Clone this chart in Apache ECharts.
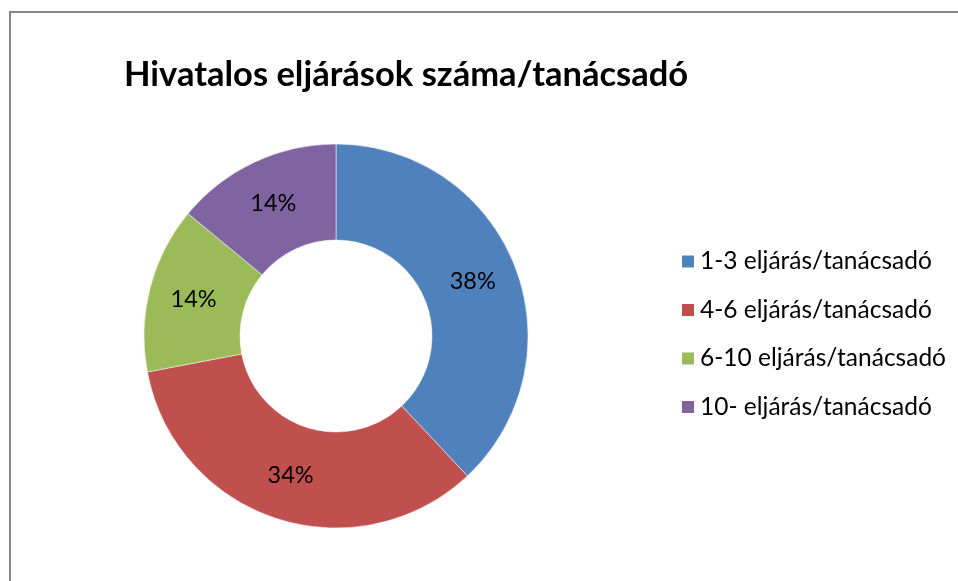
<!DOCTYPE html>
<html>
<head>
<meta charset="utf-8">
<script src="https://cdn.jsdelivr.net/npm/echarts@6/dist/echarts.min.js"></script>
<style>
  html, body { margin: 0; padding: 0; background: #fff; }
  #chart { width: 958px; height: 581px; }
</style>
</head>
<body>
<div id="chart"></div>
<script>
var categories = ['1-3 eljárás/tanácsadó', '4-6 eljárás/tanácsadó', '6-10 eljárás/tanácsadó', '10- eljárás/tanácsadó'];
var values = [38, 34, 14, 14];
var colors = ['#4F81BD', '#C0504D', '#9BBB59', '#8064A2'];

var myChart = echarts.init(document.getElementById('chart'));

var pieData = [];
for (var i = 0; i < categories.length; i++) {
    pieData.push({ name: categories[i], value: values[i] });
}

var option = {
    backgroundColor: '#fff',
    color: colors,
    animation: false,
    title: {
        text: 'Hivatalos eljárások száma/tanácsadó',
        left: 119,
        top: 52,
        textStyle: {
            fontFamily: 'Lato',
            fontWeight: 'bold',
            fontSize: 34.5,
            color: '#000'
        }
    },
    legend: {
        orient: 'vertical',
        left: 675,
        top: 244,
        icon: 'rect',
        itemWidth: 14,
        itemHeight: 14,
        itemGap: 23.5,
        data: categories,
        textStyle: {
            fontFamily: 'Lato',
            fontSize: 24.5,
            color: '#000'
        }
    },
    graphic: [{
        type: 'rect',
        shape: { x: 10, y: 12, width: 980, height: 620 },
        style: { fill: 'none', stroke: '#868686', lineWidth: 2 },
        silent: true
    }],
    series: [{
        type: 'pie',
        center: [336, 336],
        radius: [96, 192],
        startAngle: 90,
        clockwise: true,
        data: pieData,
        itemStyle: { borderColor: '#fff', borderWidth: 0.5 },
        label: {
            position: 'inside',
            formatter: '{c}%',
            fontFamily: 'Lato',
            fontSize: 23.5,
            color: '#000'
        },
        labelLine: { show: false },
        emphasis: { disabled: true }
    }]
};
myChart.setOption(option);
</script>
</body>
</html>
